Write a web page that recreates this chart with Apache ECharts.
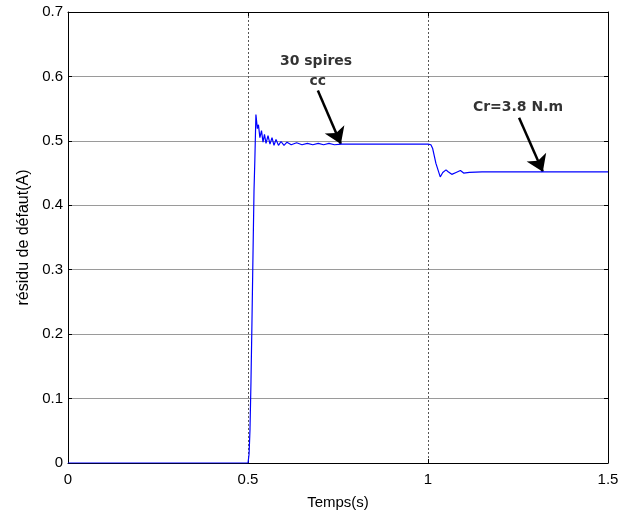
<!DOCTYPE html>
<html>
<head>
<meta charset="utf-8">
<script src="https://cdn.jsdelivr.net/npm/echarts@6/dist/echarts.min.js"></script>
<style>
  html, body { margin: 0; padding: 0; background: #fff; }
  #chart { width: 633px; height: 515px; }
</style>
</head>
<body>
<div id="chart"></div>
<script>
// Fault residual (A) versus time (s)
const tempsS = [0, 0.5, 0.503, 0.5056, 0.5083, 0.511, 0.513, 0.5167, 0.519, 0.522,
  0.526, 0.529, 0.533, 0.5375, 0.5417, 0.5458, 0.55, 0.5556, 0.5611, 0.5667,
  0.5722, 0.5778, 0.5847, 0.5917, 0.6, 0.6083, 0.62, 0.635, 0.65, 0.665,
  0.68, 0.695, 0.71, 0.725, 0.74, 0.76, 0.8, 0.9, 1.0, 1.008,
  1.013, 1.022, 1.034, 1.041, 1.05, 1.056, 1.066, 1.078, 1.09, 1.099,
  1.115, 1.15, 1.153, 1.156, 1.2, 1.5];
const residuA = [0, 0, 0.014, 0.053, 0.127, 0.219, 0.292, 0.423, 0.47, 0.541,
  0.519, 0.525, 0.505, 0.516, 0.498, 0.510, 0.496, 0.508, 0.495, 0.505,
  0.493, 0.502, 0.493, 0.499, 0.493, 0.498, 0.494, 0.497, 0.494, 0.496,
  0.494, 0.496, 0.494, 0.496, 0.494, 0.495, 0.495, 0.495, 0.495, 0.494,
  0.488, 0.465, 0.444, 0.451, 0.455, 0.452, 0.448, 0.451, 0.454, 0.450,
  0.451, 0.452, 0.449, 0.452, 0.452, 0.452];

// Annotation texts and the arrows pointing at the curve
const noteT = [0.689, 0.694, 1.25];
const noteV = [0.624, 0.592, 0.552];
const noteText = ['30 spires', 'cc', 'Cr=3.8 N.m'];
const arrowFrom = [[0.694, 0.578], [1.253, 0.536]];
const arrowTo = [[0.758, 0.495], [1.319, 0.452]];

const xTicks = { min: 0, max: 1.5, interval: 0.5 };
const yTicks = { min: 0, max: 0.7, interval: 0.1 };

const font = 'Liberation Sans, Arial, sans-serif';
const chart = echarts.init(document.getElementById('chart'), null, { renderer: 'canvas' });

const frameAxis = {
  axisLine: { show: true, onZero: false, lineStyle: { color: '#000', width: 1 } },
  axisTick: { show: true, inside: true, length: 4, lineStyle: { color: '#000' } },
};

chart.setOption({
  animation: false,
  backgroundColor: '#fff',
  grid: { left: 68, right: 25, top: 12, bottom: 51, containLabel: false },
  xAxis: [
    Object.assign({
      type: 'value', position: 'bottom', min: xTicks.min, max: xTicks.max, interval: xTicks.interval,
      name: 'Temps(s)', nameLocation: 'middle', nameGap: 32,
      nameTextStyle: { fontFamily: font, fontSize: 15, color: '#000' },
      axisLabel: { fontFamily: font, fontSize: 15, color: '#000', margin: 9 },
      splitLine: { show: true, lineStyle: { color: '#555', width: 1, type: [2, 2] } }
    }, frameAxis),
    Object.assign({
      type: 'value', position: 'top', min: xTicks.min, max: xTicks.max, interval: xTicks.interval,
      axisLabel: { show: false }, splitLine: { show: false }
    }, frameAxis)
  ],
  yAxis: [
    Object.assign({
      type: 'value', position: 'left', min: yTicks.min, max: yTicks.max, interval: yTicks.interval,
      name: 'résidu de défaut(A)', nameLocation: 'middle', nameGap: 36, nameRotate: 90,
      nameTextStyle: { fontFamily: font, fontSize: 16, color: '#000' },
      axisLabel: { fontFamily: font, fontSize: 15, color: '#000', margin: 5 },
      splitLine: { show: true, lineStyle: { color: '#9a9a9a', width: 1 } }
    }, frameAxis),
    Object.assign({
      type: 'value', position: 'right', min: yTicks.min, max: yTicks.max, interval: yTicks.interval,
      axisLabel: { show: false }, splitLine: { show: false }
    }, frameAxis)
  ],
  series: [
    {
      name: 'résidu',
      type: 'line',
      data: tempsS.map((t, i) => [t, residuA[i]]),
      showSymbol: false,
      lineStyle: { color: '#0000ff', width: 1.2 },
      z: 5,
      silent: true,
      markLine: {
        silent: true,
        symbol: ['none', 'arrow'],
        symbolSize: 16,
        label: { show: false },
        lineStyle: { color: '#000', width: 2.5, type: 'solid' },
        itemStyle: { color: '#000' },
        data: arrowFrom.map((p, i) => [{ coord: p }, { coord: arrowTo[i] }])
      }
    },
    {
      name: 'notes',
      type: 'scatter',
      data: noteT.map((t, i) => [t, noteV[i], noteText[i]]),
      symbolSize: 0,
      silent: true,
      z: 6,
      label: {
        show: true,
        position: 'inside',
        formatter: p => p.data[2],
        fontFamily: 'DejaVu Sans, sans-serif',
        fontWeight: 'bold',
        fontSize: 14,
        color: '#000'
      }
    }
  ]
});
</script>
</body>
</html>
